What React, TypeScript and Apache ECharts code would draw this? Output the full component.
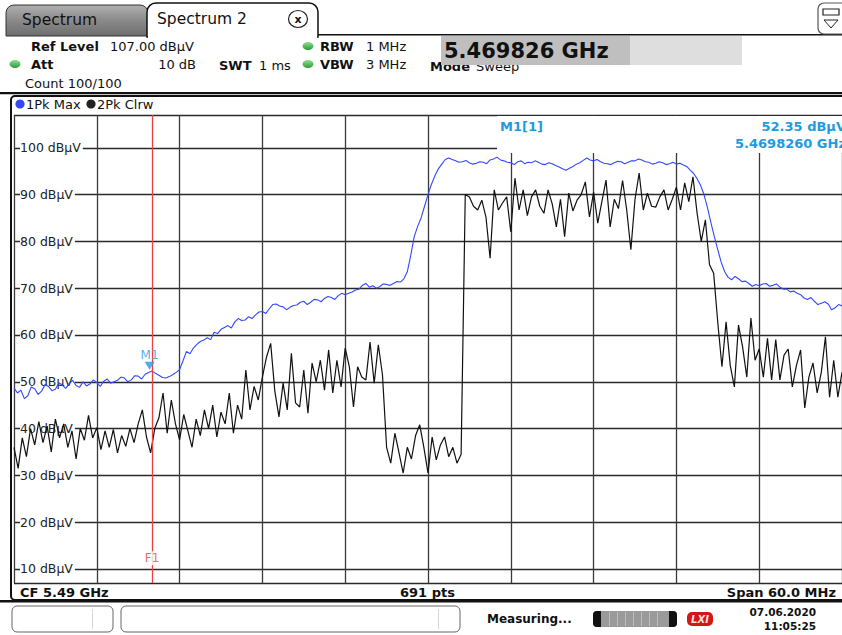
import React, { useEffect, useRef } from "react";
import * as echarts from "echarts";

const FONT = "'DejaVu Sans', Verdana, sans-serif";

// Sweep settings
const FREQ_START_MHZ = 5460;
const FREQ_STOP_MHZ = 5520;
const FREQ_DIV_MHZ = 6;
const REF_LEVEL = 107;
const BOTTOM_LEVEL = 7;

// Trace 1: Pk Max (blue), one value every 0.25 MHz from 5460 MHz
const PKMAX_STEP_MHZ = 0.25;
const pkMaxValues = [
  48.7, 47.6, 48.2, 46.4, 47.0, 48.9, 48.5, 47.3, 48.0, 49.4,
  49.0, 48.1, 48.4, 49.8, 49.3, 48.6, 49.6, 50.3, 49.2, 48.8,
  50.0, 49.1, 49.5, 50.4, 49.8, 49.0, 50.1, 50.6, 49.7, 50.0,
  50.3, 51.0, 50.8, 50.0, 50.4, 51.3, 51.2, 50.6, 51.6, 52.0,
  52.3, 51.8, 51.4, 50.9, 50.8, 51.1, 51.5, 52.0, 52.6, 54.5,
  56.5, 56.0, 57.2, 58.0, 58.6, 58.9, 59.4, 59.0, 60.6, 60.3,
  61.2, 61.6, 62.0, 61.5, 62.8, 63.5, 63.1, 63.2, 63.9, 63.5,
  64.3, 64.9, 65.0, 64.6, 65.6, 66.5, 66.6, 66.2, 66.0, 65.4,
  65.9, 66.3, 66.4, 67.0, 67.2, 66.5, 67.0, 67.6, 67.5, 67.1,
  67.8, 68.2, 68.0, 67.6, 68.4, 68.9, 68.6, 68.9, 69.2, 69.6,
  69.8, 70.6, 71.0, 70.2, 70.5, 70.0, 70.3, 70.9, 70.8, 70.6,
  71.0, 71.4, 71.3, 72.0, 73.5, 77.0, 81.0, 83.2, 85.0, 87.5,
  90.0, 92.2, 94.0, 95.5, 96.5, 97.5, 97.8, 97.5, 97.2, 96.9,
  97.0, 97.3, 96.8, 96.5, 96.7, 97.0, 96.9, 96.6, 97.4, 97.6,
  98.0, 97.4, 97.2, 96.9, 96.8, 96.4, 97.0, 97.2, 96.6, 96.9,
  96.8, 97.2, 96.9, 96.5, 96.4, 96.8, 96.6, 96.2, 95.9, 95.5,
  95.2, 95.6, 96.0, 96.5, 96.8, 97.3, 97.8, 97.4, 97.2, 97.5,
  97.0, 96.7, 96.6, 96.4, 96.8, 97.1, 97.0, 96.6, 96.9, 97.2,
  97.2, 97.6, 97.4, 97.0, 96.9, 96.5, 96.7, 97.0, 96.8, 96.4,
  96.6, 96.9, 96.5, 96.7, 96.3, 96.0, 95.2, 94.5, 93.4, 92.0,
  90.0, 87.2, 84.0, 81.0, 78.2, 75.5, 73.5, 72.3, 71.8, 72.5,
  72.0, 71.4, 71.5, 71.0, 70.4, 70.8, 70.5, 70.9, 71.0, 70.4,
  70.6, 70.9, 70.2, 69.8, 69.8, 69.2, 69.4, 68.9, 68.6, 67.9,
  67.6, 68.0, 67.2, 66.5, 66.8, 67.1, 66.6, 65.4, 65.8, 66.5,
  66.2,
];

// Trace 2: Pk Clrw (black), one value every 0.3 MHz from 5460 MHz
const CLRW_STEP_MHZ = 0.3;
const clrwValues = [
  36, 31.5, 38, 34, 40, 36.5, 41.5, 37, 40.5, 35,
  42, 38, 41, 36, 39.5, 33.5, 40, 37.5, 42.8, 38,
  40.2, 35.5, 39.5, 36, 39.8, 34.8, 38.5, 36.2, 40, 37,
  41, 44, 38.2, 34.8, 40, 42.3, 47.6, 39, 46.1, 41,
  37.6, 43, 39.5, 36, 42, 38.5, 44, 40, 45, 38.2,
  43.5, 41, 47.6, 39, 45, 42, 52.5, 44, 49, 46.1,
  51, 55.3, 58.2, 48, 42.5, 49.7, 44, 56.1, 45.5, 44.6,
  52.5, 43.3, 54, 50, 54.6, 48.2, 56.8, 47.6, 54.6, 48.9,
  57.2, 53.2, 44.6, 53.2, 51, 50.4, 58.5, 49.7, 57.9, 51.5,
  36, 32.6, 39, 34.8, 30.5, 36, 33.5, 38.5, 40.8, 36,
  30.5, 38.2, 33.3, 36.5, 38.2, 34, 36, 32.6, 34.5, 90,
  89.5, 87.5, 86.7, 88.8, 85.2, 76.4, 91, 86.7, 88.2, 89.5,
  82, 93.5, 86.7, 91, 85.5, 89.5, 91, 87.5, 86, 91,
  88, 83.1, 89, 81, 90.3, 86.5, 88.8, 90, 92.7, 85.2,
  90.5, 83.9, 88.5, 93.1, 83.1, 89, 87, 93, 86.7, 78.2,
  89, 94.6, 86.7, 90.3, 87.5, 87.3, 89.5, 91, 86.7, 89,
  91.6, 86.7, 92.5, 88.5, 93.8, 86, 80, 84.6, 75, 73.2,
  62.6, 53.2, 62.8, 53.5, 48.9, 62.1, 57.4, 51, 63.6, 54.6,
  57, 51, 59.3, 50.4, 59, 50.4, 55.7, 57, 48.9, 53.5,
  56.8, 44.4, 51, 54, 47.6, 52, 59.6, 46.7, 54.6, 46.7,
  52,
];

// Marker M1 and frequency line F1
const markerM1Freq = 5469.826;
const markerM1Level = 52.35;
const lineF1Freq = 5470.0;
const lineF1LabelLevel = 12.3;

const BLUE = "#3347ff";
const MARKER_BLUE = "#1e9be0";
const RED = "#ee4040";

function txt(x: number, y: number, text: string, o: any = {}) {
  return {
    type: "text",
    x,
    y,
    z: o.z ?? 20,
    style: {
      text,
      fill: o.fill ?? "#111",
      fontSize: o.size ?? 13,
      fontWeight: o.weight ?? "normal",
      fontStyle: o.italic ? "italic" : "normal",
      fontFamily: FONT,
      align: o.align ?? "left",
      verticalAlign: "middle",
    },
  };
}

function rect(x: number, y: number, w: number, h: number, o: any = {}) {
  return {
    type: "rect",
    z: o.z ?? 15,
    shape: { x, y, width: w, height: h, r: o.r ?? 0 },
    style: {
      fill: o.fill ?? "none",
      stroke: o.stroke ?? "none",
      lineWidth: o.lw ?? 1,
    },
  };
}

function buildOption() {
  const pkMax = pkMaxValues.map((v, i) => [FREQ_START_MHZ + i * PKMAX_STEP_MHZ, v]);
  const clrw = clrwValues.map((v, i) => [FREQ_START_MHZ + i * CLRW_STEP_MHZ, v]);

  const grayTab = new echarts.graphic.LinearGradient(0, 0, 0, 1, [
    { offset: 0, color: "#b0b0b0" },
    { offset: 0.5, color: "#8a8a8a" },
    { offset: 1, color: "#6e6e6e" },
  ]);
  const green = new echarts.graphic.LinearGradient(0, 0, 0, 1, [
    { offset: 0, color: "#8fe08f" },
    { offset: 1, color: "#2f9a3a" },
  ]);

  const graphic: any[] = [
    // tabs
    rect(6, 5, 142, 31, { fill: grayTab, stroke: "#333", lw: 1, r: [8, 8, 0, 0] }),
    txt(22, 20, "Spectrum", { size: 15.5 }),
    rect(147, 3, 171, 34, { fill: "#fff", stroke: "#111", lw: 1.5, r: [9, 9, 0, 0] }),
    rect(148, 34, 169, 4, { fill: "#fff", z: 16 }),
    txt(157, 19, "Spectrum 2", { size: 15.5 }),
    { type: "ellipse", z: 16, shape: { cx: 298, cy: 19, rx: 9.5, ry: 8.5 }, style: { fill: "#fff", stroke: "#222", lineWidth: 1.2 } },
    txt(298, 19, "x", { size: 11, weight: "bold", align: "center" }),
    rect(318, 34, 530, 1.6, { fill: "#111" }),
    // top-right icon
    rect(818, 3, 32, 31, { fill: "#fff", stroke: "#555", lw: 1.2, r: 6 }),
    rect(823, 9, 16, 6, { fill: "none", stroke: "#222", lw: 1.2 }),
    { type: "polygon", z: 16, shape: { points: [[824, 20], [838, 20], [831, 28]] }, style: { fill: "none", stroke: "#222", lineWidth: 1 } },

    // header info
    txt(31, 46, "Ref Level", { weight: "bold" }),
    txt(110, 46, "107.00 dBµV"),
    { type: "ellipse", z: 16, shape: { cx: 15, cy: 64, rx: 5.5, ry: 4 }, style: { fill: green } },
    txt(31, 64, "Att", { weight: "bold" }),
    txt(196, 64, "10 dB", { align: "right" }),
    txt(219, 65, "SWT", { weight: "bold" }),
    txt(259, 65, "1 ms"),
    { type: "ellipse", z: 16, shape: { cx: 308, cy: 46, rx: 5.5, ry: 4 }, style: { fill: green } },
    { type: "ellipse", z: 16, shape: { cx: 308, cy: 64, rx: 5.5, ry: 4 }, style: { fill: green } },
    txt(320, 46, "RBW", { weight: "bold" }),
    txt(366, 46, "1 MHz"),
    txt(320, 64, "VBW", { weight: "bold" }),
    txt(366, 64, "3 MHz"),
    txt(25, 83, "Count 100/100"),
    txt(430, 66.5, "Mode", { weight: "bold", z: 18 }),
    txt(476, 66.5, "Sweep", { z: 18 }),
    rect(441, 36, 301, 29, { fill: "#dedede", z: 19 }),
    rect(441, 36, 189, 29, { fill: "#bfbfbf", z: 19 }),
    txt(444, 51, "5.469826 GHz", { size: 21, weight: "bold", z: 20 }),

    // separators & frame
    rect(0, 92, 842, 2.2, { fill: "#111" }),
    rect(11, 96, 845, 504, { stroke: "#111", lw: 2, r: 4 }),
    rect(0, 600, 842, 2.6, { fill: "#111" }),

    // legend
    { type: "circle", z: 16, shape: { cx: 20, cy: 104, r: 4.6 }, style: { fill: BLUE } },
    txt(26, 104, "1Pk Max"),
    { type: "circle", z: 16, shape: { cx: 91, cy: 104, r: 4.6 }, style: { fill: "#222" } },
    txt(97, 104, "2Pk Clrw"),

    // marker readout box (hides grid)
    rect(497, 116, 352, 37, { fill: "#fff", z: 1 }),
    txt(500, 126, "M1[1]", { fill: MARKER_BLUE, weight: "bold" }),
    txt(846, 126, "52.35 dBµV", { fill: MARKER_BLUE, weight: "bold", align: "right" }),
    txt(846, 143, "5.4698260 GHz", { fill: MARKER_BLUE, weight: "bold", align: "right" }),

    // bottom info row
    txt(20, 592, "CF 5.49 GHz", { weight: "bold" }),
    txt(400, 592, "691 pts", { weight: "bold" }),
    txt(836, 592, "Span 60.0 MHz", { weight: "bold", align: "right" }),

    // status bar
    rect(12, 606, 101, 26, { fill: "#fff", stroke: "#666", lw: 1, r: 5 }),
    rect(92, 609, 0.8, 20, { fill: "#ccc" }),
    rect(121, 606, 339, 26, { fill: "#fff", stroke: "#666", lw: 1, r: 5 }),
    rect(438, 609, 0.8, 20, { fill: "#ccc" }),
    txt(487, 619, "Measuring...", { size: 12, weight: "bold" }),
    rect(593, 611, 84, 16, { fill: "#9a9a9a", r: 4 }),
    rect(593, 611, 8, 16, { fill: "#111", r: [4, 0, 0, 4] }),
    rect(669, 611, 8, 16, { fill: "#111", r: [0, 4, 4, 0] }),
    ...[609, 617, 625, 633, 641, 649, 657].map((x) => rect(x, 612, 0.8, 14, { fill: "#c8c8c8", z: 16 })),
    rect(687, 612, 26, 14, { fill: "#d01818", r: 5 }),
    txt(700, 619, "LXI", { size: 10, weight: "bold", italic: true, fill: "#ffdddd", align: "center" }),
    txt(816, 612, "07.06.2020", { size: 10.5, weight: "bold", align: "right" }),
    txt(816, 626, "11:05:25", { size: 10.5, weight: "bold", align: "right" }),
  ];

  return {
    animation: false,
    backgroundColor: "#fff",
    grid: { left: 14, top: 115, width: 834, height: 468, show: false },
    xAxis: {
      type: "value",
      min: FREQ_START_MHZ,
      max: FREQ_STOP_MHZ,
      interval: FREQ_DIV_MHZ,
      axisLine: { show: false },
      axisTick: { show: false },
      axisLabel: { show: false },
      splitLine: { show: true, lineStyle: { color: "#3a3a3a", width: 1.3 } },
    },
    yAxis: {
      type: "value",
      min: BOTTOM_LEVEL,
      max: REF_LEVEL,
      splitNumber: 10,
      axisLine: { show: false },
      axisTick: { show: false },
      axisLabel: {
        inside: true,
        margin: 6,
        showMinLabel: false,
        showMaxLabel: false,
        formatter: (v: number) => `${v} dBµV`,
        color: "#222",
        fontSize: 12.5,
        fontFamily: FONT,
        backgroundColor: "#fff",
        padding: [1, 2, 1, 0],
      },
      splitLine: { show: true, lineStyle: { color: "#2a2a2a", width: 1.3 } },
    },
    graphic,
    series: [
      {
        name: "2Pk Clrw",
        type: "line",
        data: clrw,
        showSymbol: false,
        symbol: "none",
        z: 3,
        lineStyle: { color: "#111", width: 1.2 },
        markLine: {
          silent: true,
          symbol: ["none", "none"],
          label: { show: false },
          lineStyle: { color: RED, width: 1.3, type: "solid" },
          data: [{ xAxis: lineF1Freq }],
        },
      },
      {
        name: "1Pk Max",
        type: "line",
        data: pkMax,
        showSymbol: false,
        symbol: "none",
        z: 4,
        lineStyle: { color: BLUE, width: 1.1 },
      },
      {
        name: "F1",
        type: "scatter",
        z: 6,
        data: [[lineF1Freq, lineF1LabelLevel]],
        symbolSize: 0,
        label: {
          show: true,
          position: "inside",
          formatter: "F1",
          color: RED,
          fontSize: 12,
          fontFamily: FONT,
          backgroundColor: "#fff",
          padding: [1, 1],
        },
      },
      {
        name: "M1",
        type: "scatter",
        z: 6,
        data: [[markerM1Freq, markerM1Level]],
        symbol: "triangle",
        symbolRotate: 180,
        symbolSize: [10, 8],
        symbolOffset: [0, -5],
        itemStyle: { color: MARKER_BLUE },
        label: {
          show: true,
          position: "top",
          distance: 1,
          formatter: "M1",
          color: MARKER_BLUE,
          fontSize: 12,
          fontFamily: FONT,
        },
      },
    ],
  };
}

export default function App() {
  const ref = useRef<HTMLDivElement>(null);
  useEffect(() => {
    document.body.style.margin = "0";
    const chart = echarts.init(ref.current!, null, { renderer: "svg" });
    chart.setOption(buildOption() as any);
    return () => chart.dispose();
  }, []);
  return <div ref={ref} style={{ width: 842, height: 635, background: "#fff", overflow: "hidden" }} />;
}
